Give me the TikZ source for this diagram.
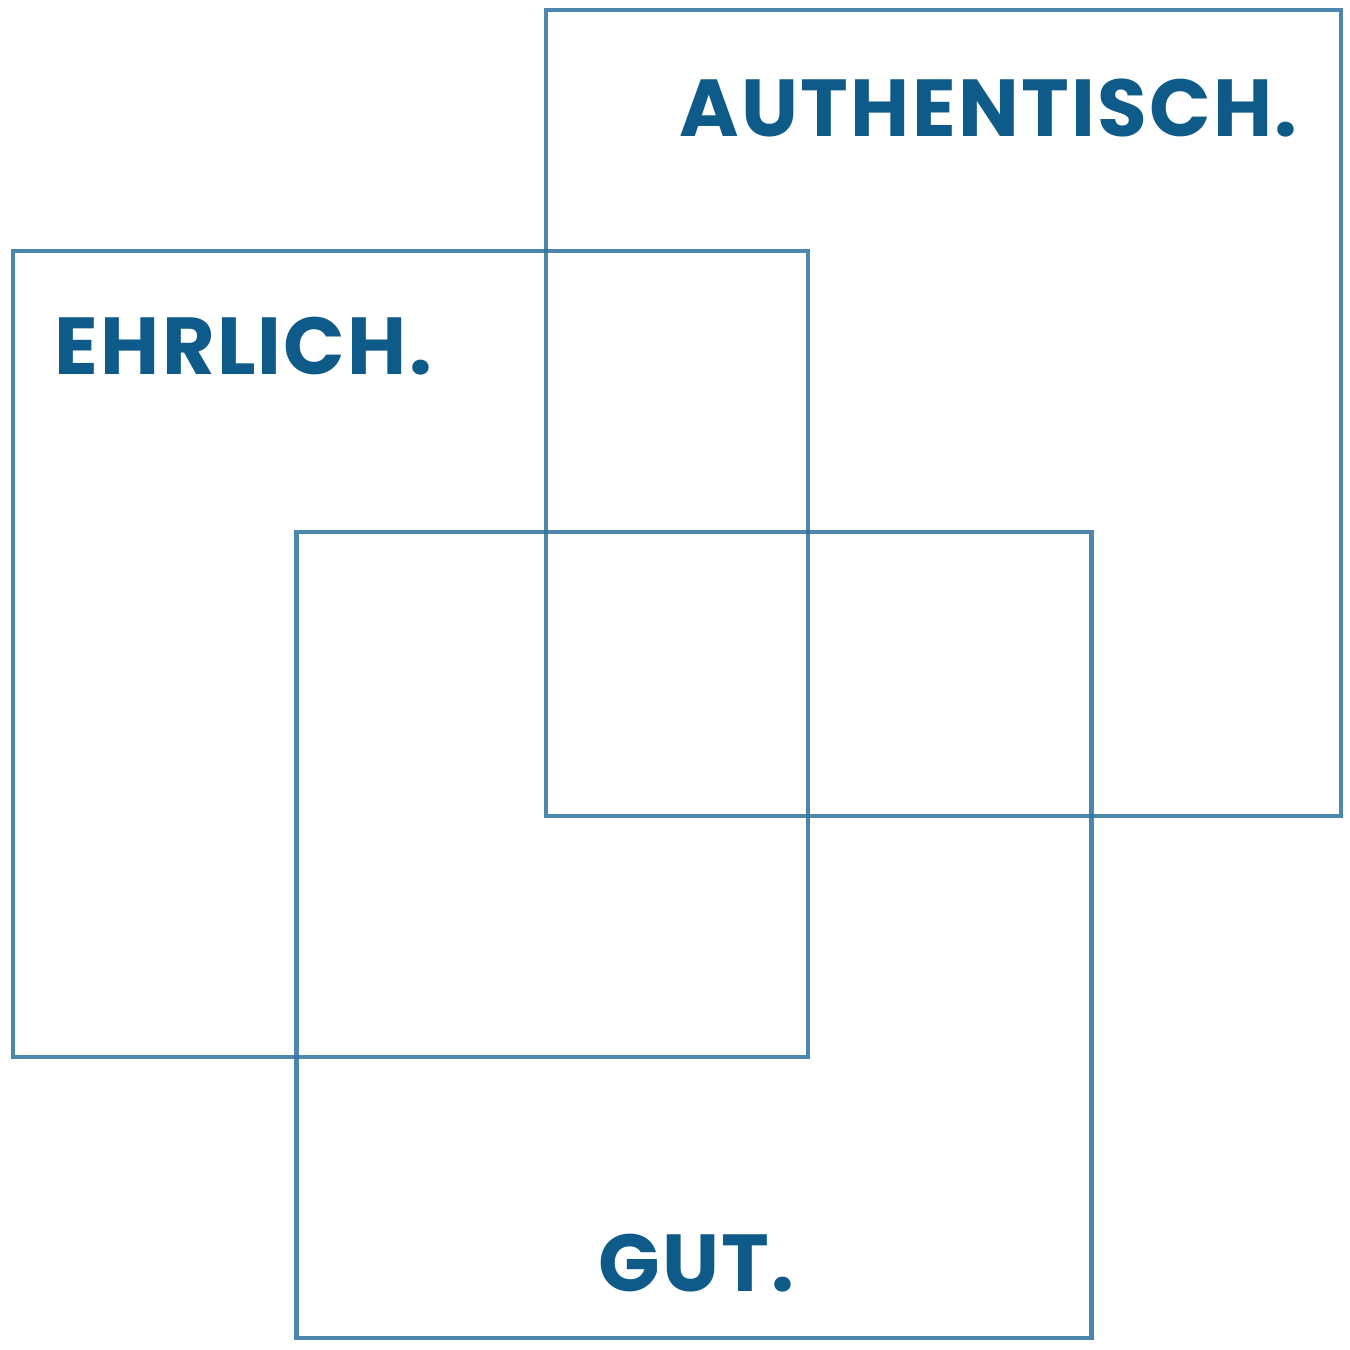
\documentclass[tikz,border=0pt]{standalone}
\usepackage{fontspec}
\setmainfont{Poppins}[LetterSpace=2.8]
\definecolor{boxblue}{HTML}{2F72A0}
\definecolor{textblue}{HTML}{0E5A88}
\tikzset{
  square/.style={rectangle,draw=boxblue,draw opacity=0.85,line width=1.15pt,inner sep=0pt,minimum width=7.95cm,minimum height=8.06cm},
  word/.style={text=textblue,font=\fontsize{23}{23}\selectfont\bfseries,inner sep=0pt,anchor=base west}
}
\begin{document}
\begin{tikzpicture}
\useasboundingbox (0,0) rectangle (13.5,13.5);
\node[square] (sqA) at (9.435,9.37) {};
\node[square] (sqE) at (4.105,6.96) {};
\node[square] (sqG) at (6.94,4.15) {};

\node[word] (authentisch) at (6.79,12.13) {AUTHENTISCH.};
\node[word] (ehrlich) at (0.54,9.75) {EHRLICH.};
\node[word] (gut) at (5.98,0.59) {GUT.};
\end{tikzpicture}
\end{document}
